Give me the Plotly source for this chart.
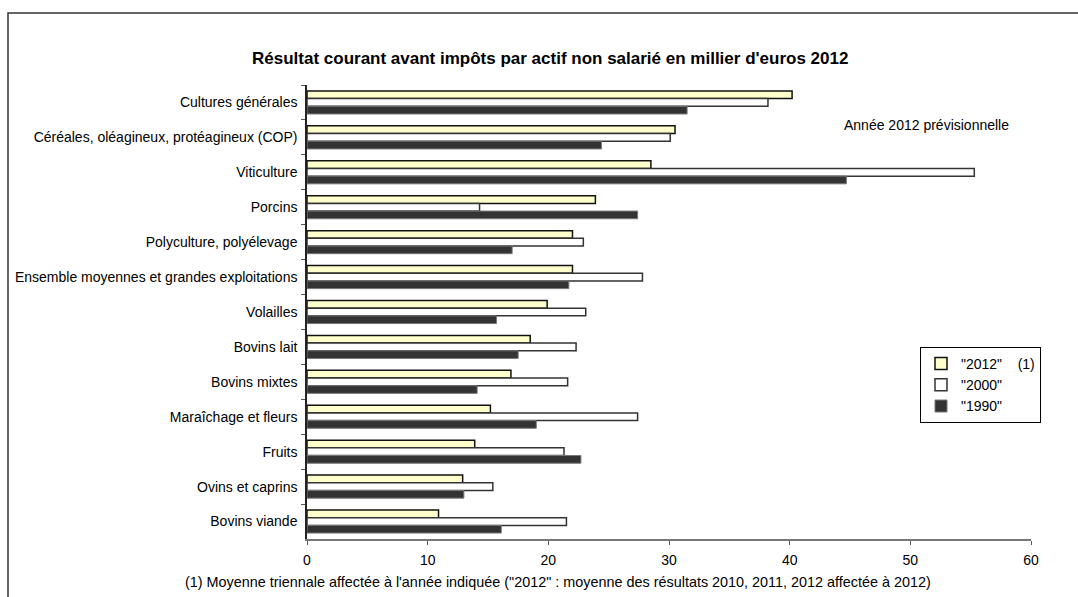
import plotly.graph_objects as go

categories = [
    "Cultures générales",
    "Céréales, oléagineux, protéagineux (COP)",
    "Viticulture",
    "Porcins",
    "Polyculture, polyélevage",
    "Ensemble moyennes et grandes exploitations",
    "Volailles",
    "Bovins lait",
    "Bovins mixtes",
    "Maraîchage et fleurs",
    "Fruits",
    "Ovins et caprins",
    "Bovins viande",
]
v2012 = [40.2, 30.5, 28.5, 23.9, 22.0, 22.0, 19.9, 18.5, 16.9, 15.2, 13.9, 12.9, 10.9]
v2000 = [38.2, 30.1, 55.3, 14.3, 22.9, 27.8, 23.1, 22.3, 21.6, 27.4, 21.3, 15.4, 21.5]
v1990 = [31.5, 24.4, 44.7, 27.4, 17.0, 21.7, 15.7, 17.5, 14.1, 19.0, 22.7, 13.0, 16.1]
series_names = ['"2012"\u00a0\u00a0\u00a0\u00a0(1)', '"2000"', '"1990"']
x_ticks = [0, 10, 20, 30, 40, 50, 60]

FONT = "Arial, Liberation Sans, sans-serif"

fig = go.Figure()
styles = [
    dict(color="#FFFFCC", line=dict(color="#111111", width=1.5)),
    dict(color="#FFFFFF", line=dict(color="#333333", width=1.5)),
    dict(color="#333333", line=dict(color="#777777", width=1)),
]
for name, vals, st in zip(series_names, [v2012, v2000, v1990], styles):
    fig.add_trace(go.Bar(
        y=categories, x=vals, name=name, orientation="h",
        marker=st,
    ))

W, H = 1078, 597
L, R, T, B = 307, 47, 85, 58
pw, ph = W - L - R, H - T - B

def px_x(p):
    return (p - L) / pw

def px_y(p):
    return (H - B - p) / ph

fig.update_layout(
    width=W, height=H,
    margin=dict(l=L, r=R, t=T, b=B),
    paper_bgcolor="white", plot_bgcolor="white",
    barmode="group", bargap=0.34, bargroupgap=0.0,
    font=dict(family=FONT, size=14, color="#000000"),
    showlegend=True,
    legend=dict(
        x=px_x(920), y=px_y(347), xanchor="left", yanchor="top",
        bordercolor="#000000", borderwidth=1, bgcolor="white",
        font=dict(family=FONT, size=14, color="#000000"),
        traceorder="normal", itemwidth=30,
    ),
    xaxis=dict(
        range=[0, 60], tickvals=x_ticks, ticks="outside", ticklen=4,
        tickcolor="#555555", showline=True, linecolor="#777777", linewidth=1.5,
        showgrid=False, zeroline=False, fixedrange=True,
        tickfont=dict(family=FONT, size=14, color="#000000"),
        ticklabelstandoff=3,
    ),
    yaxis=dict(
        autorange="reversed", ticks="outside", ticklen=4, tickson="boundaries",
        tickcolor="#555555", showline=True, linecolor="#222222", linewidth=1.5,
        showgrid=False, zeroline=False,
        tickfont=dict(family=FONT, size=14, color="#000000"),
        ticklabelstandoff=5,
    ),
    annotations=[
        dict(text="<b>Résultat courant avant impôts par actif non salarié en millier d'euros 2012</b>",
             xref="paper", yref="paper", x=px_x(550), y=px_y(58),
             xanchor="center", yanchor="middle", showarrow=False,
             font=dict(family=FONT, size=17, color="#000000")),
        dict(text="Année 2012 prévisionnelle",
             xref="paper", yref="paper", x=px_x(926), y=px_y(125),
             xanchor="center", yanchor="middle", showarrow=False,
             font=dict(family=FONT, size=14, color="#000000")),
        dict(text="(1) Moyenne triennale affectée à l'année indiquée (\"2012\" : moyenne des résultats 2010, 2011, 2012 affectée à 2012)",
             xref="paper", yref="paper", x=px_x(558), y=px_y(582),
             xanchor="center", yanchor="middle", showarrow=False,
             font=dict(family=FONT, size=14.4, color="#000000")),
    ],
    shapes=[
        dict(type="rect", xref="paper", yref="paper",
             x0=px_x(8), y0=px_y(13), x1=px_x(1090), y1=px_y(610),
             line=dict(color="#333333", width=1.5), fillcolor="rgba(0,0,0,0)",
             layer="below"),
    ],
)

fig.write_html("out.html")
